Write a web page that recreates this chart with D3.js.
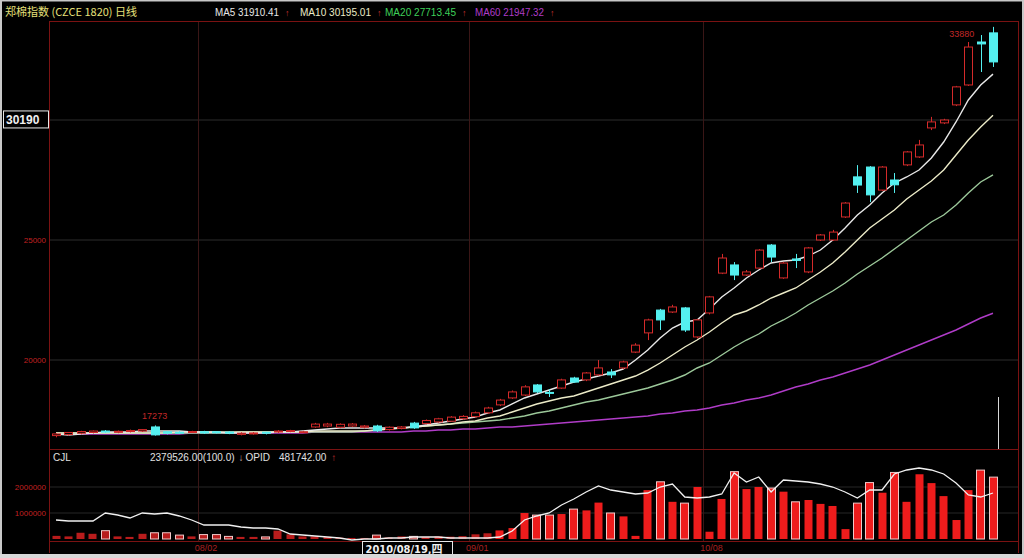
<!DOCTYPE html>
<html><head><meta charset="utf-8">
<script src="https://cdn.jsdelivr.net/npm/d3@7"></script>
<style>body{margin:0;background:#000}svg{display:block}</style>
</head><body><svg id="c" width="1024" height="558"></svg>
<script>
// ---------- DATA ----------
const opens  = [16850,16900,16950,16980,17040,16990,17020,17040,17210,17010,16990,17000,17010,17010,17000,16900,16920,16990,17000,17020,17000,17210,17250,17200,17250,17200,17250,17100,17150,17370,17350,17420,17450,17550,17640,17800,18130,18420,18540,18960,18650,18830,19250,19170,19380,19500,19670,20330,21130,22080,22000,22170,20960,21960,23620,23960,23540,23830,24790,23420,24210,23670,25000,25000,25960,27630,28040,27080,27500,28130,28460,29670,29880,30630,31460,33250,33630];
const highs  = [16950,17000,17050,17060,17080,17060,17100,17120,17273,17020,17040,17050,17050,17030,17040,16990,17000,17010,17080,17090,17050,17380,17380,17360,17370,17290,17300,17230,17250,17420,17520,17590,17660,17700,17850,18050,18380,18730,18950,19000,18780,19220,19300,19500,20000,19620,19970,20700,21720,22130,22300,22210,21710,22670,24420,24080,23750,24620,24830,24080,24420,24710,25250,25420,26580,28120,28080,28080,27790,28710,29170,30130,30050,31420,33250,33540,33880];
const lows   = [16780,16850,16900,16940,16960,16950,16980,17000,16850,16900,16930,16960,16920,16940,16910,16860,16890,16900,16960,16990,16960,17180,17200,17160,17220,17150,17000,17060,17110,17130,17320,17390,17420,17500,17600,17760,18080,18380,18500,18620,18460,18800,19050,19120,19350,19250,19620,20290,20830,21250,21960,21170,20900,21900,23580,23330,23500,23800,24080,23380,23830,23620,24960,24960,25920,26960,26580,27040,26960,28080,28420,29580,29830,30580,31420,32000,32210];
const closes = [16920,16980,17020,17040,17000,17030,17060,17100,16880,16950,16960,17020,16960,16980,16950,16950,16960,16950,17040,17060,17010,17330,17330,17320,17330,17250,17050,17200,17210,17170,17480,17550,17620,17650,17800,18000,18330,18670,18880,18670,18620,19170,19080,19460,19670,19380,19920,20620,21670,21670,22210,21250,21670,22630,24250,23540,23670,24580,24290,24040,24150,24670,25210,25330,26540,27290,26880,28040,27300,28670,28960,29920,30000,31380,33040,33170,32420];
const volumes = [120000,100000,240000,200000,320000,100000,80000,200000,240000,240000,150000,100000,170000,170000,100000,80000,80000,80000,320000,180000,100000,100000,80000,50000,40000,40000,150000,60000,100000,100000,80000,100000,90000,110000,180000,220000,330000,420000,1000000,920000,920000,960000,1150000,1100000,1400000,1000000,870000,120000,1880000,2200000,1430000,1380000,2000000,280000,1540000,2590000,1920000,2000000,1960000,1820000,1430000,1500000,1350000,1270000,380000,1380000,2170000,1780000,2560000,1430000,2490000,2150000,1650000,730000,1880000,2650000,2379526];
const opid = [323270,317400,317400,317400,364360,352620,335010,364360,358490,364360,346750,323270,293920,293920,293920,282180,276310,276310,270440,241090,235220,229350,223480,217610,205870,211740,211740,217610,217610,223480,223480,223480,217610,217610,217610,217610,223480,258700,323270,346750,364360,411320,446540,487630,522850,499370,487630,475890,481760,516980,534590,458280,452410,458280,475890,599160,546330,575680,487630,558070,552200,546330,534590,516980,487630,452410,499370,499370,593290,616770,628510,616770,593290,540460,470020,458280,481742];
const ma5  = [16917,16875,16917,16958,17000,17000,17000,17042,17042,17042,17042,17000,17000,17000,16958,16958,16958,16958,17000,17000,17042,17083,17125,17167,17167,17167,17167,17167,17167,17208,17292,17375,17458,17542,17625,17792,17917,18167,18417,18583,18750,18917,19083,19208,19333,19458,19625,20000,20417,20917,21333,21583,21667,22125,22625,23000,23417,23750,24042,24125,24167,24333,24583,25000,25500,26042,26458,26958,27375,27625,27917,28417,29083,29917,30833,31458,31910.41];
const ma10 = [16958,16958,16958,16958,16958,16958,16958,16958,16958,16958,17000,17000,17000,17000,17000,17000,17000,17000,17000,17000,17000,17042,17042,17042,17042,17042,17083,17125,17167,17208,17250,17292,17333,17417,17458,17583,17667,17833,18000,18167,18292,18417,18500,18667,18833,19000,19167,19333,19583,19875,20208,20542,20833,21167,21542,21875,22042,22292,22583,22792,23000,23333,23667,24042,24500,25000,25500,25875,26250,26708,27083,27458,27917,28542,29167,29708,30195.01];
const ma20 = [16958,16958,16958,16958,16958,16958,16958,16958,16958,16958,16958,16958,16958,16958,16958,17000,17000,17000,17000,17000,17000,17000,17000,17000,17000,17042,17083,17125,17167,17208,17250,17292,17333,17375,17417,17458,17500,17583,17667,17792,17875,18000,18125,18250,18333,18458,18583,18708,18833,19000,19167,19375,19667,19875,20208,20542,20833,21083,21417,21667,21958,22292,22583,22875,23208,23583,23917,24250,24625,25000,25375,25750,26042,26458,26958,27417,27713.45];
const ma60 = [16917,16917,16917,16917,16917,16917,16917,16917,16917,16917,16917,16958,16958,16958,16958,16958,16958,16958,16958,16958,16958,17000,17000,17000,17000,17000,17000,17000,17000,17042,17042,17083,17083,17125,17125,17167,17208,17208,17250,17292,17333,17375,17417,17458,17500,17542,17583,17625,17667,17750,17792,17875,17917,18000,18125,18208,18333,18417,18542,18708,18875,19000,19167,19292,19458,19625,19792,20000,20208,20417,20625,20833,21042,21250,21500,21750,21947.32];
const priceTicks = [20000, 25000];
const volTicks = [1000000, 2000000];
const dateTickIndex = [12, 34, 53];
const dateTickLabels = ["08/02", "09/01", "10/08"];
const cursorIndex = 25;
const cursorLabel = "2010/08/19,四";
const currentPrice = 30190;
const title = "郑棉指数 (CZCE 1820) 日线";
const maNames = ["MA5", "MA10", "MA20", "MA60"];
const maLast = ["31910.41", "30195.01", "27713.45", "21947.32"];
const lowMarkIndex = 8, lowMarkText = "17273";
const highMarkText = "33880";

// ---------- LAYOUT ----------
const svg = d3.select("#c");
const W = 1024, H = 558;
const L = 50, R = 1018;
const mainTop = 21, mainBot = 449, volTop = 449, volBot = 541;
const N = closes.length;
const x = d3.scaleLinear().domain([0, N - 1]).range([56, 993]);
const step = x(1) - x(0);
const y = d3.scaleLinear().domain([20000, 30000]).range([360, 120]);
const yv = d3.scaleLinear().domain([0, 2000000]).range([539, 487]);
const yo = d3.scaleLinear().domain([200000, 700000]).range([541, 541 - 500000 / 5870]);

svg.append("rect").attr("width", W).attr("height", H).attr("fill", "#000");

const font = "'Liberation Sans', Arial, sans-serif";
const red = "#d42a2a", cyan = "#54f0f0", frame = "#7a1212";

// grid lines
const g = svg.append("g");
[30000, 25000, 20000].forEach(v => g.append("line").attr("x1", L).attr("x2", R).attr("y1", y(v)).attr("y2", y(v)).attr("stroke", "#2c2c2c").attr("stroke-width", 1));
volTicks.forEach(v => g.append("line").attr("x1", L).attr("x2", R).attr("y1", yv(v)).attr("y2", yv(v)).attr("stroke", "#262626").attr("stroke-width", 1));
dateTickIndex.forEach(i => {
  const gx = Math.round(x(i) - step / 2) + 0.5;
  g.append("line").attr("x1", gx).attr("x2", gx).attr("y1", mainTop).attr("y2", volBot).attr("stroke", "#3a1616").attr("stroke-width", 1);
});

// frame lines
svg.append("line").attr("x1", L - 1).attr("x2", R).attr("y1", mainTop + 0.5).attr("y2", mainTop + 0.5).attr("stroke", frame);
svg.append("line").attr("x1", L - 1).attr("x2", R).attr("y1", volTop + 0.5).attr("y2", volTop + 0.5).attr("stroke", frame);
svg.append("line").attr("x1", L - 1).attr("x2", R).attr("y1", volBot + 0.5).attr("y2", volBot + 0.5).attr("stroke", frame);
svg.append("line").attr("x1", L - 0.5).attr("x2", L - 0.5).attr("y1", mainTop).attr("y2", 553).attr("stroke", frame);
svg.append("line").attr("x1", R + 0.5).attr("x2", R + 0.5).attr("y1", mainTop).attr("y2", 553).attr("stroke", frame);

// header
svg.append("text").attr("x", 5).attr("y", 16).attr("font-family", "'Noto Sans CJK SC', sans-serif").attr("font-size", 11).attr("fill", "#e6e07a").text(title);
const maColors = ["#e8e8e8", "#ecebc8", "#3fd05a", "#b03cc8"];
const maX = [215, 300, 385, 475];
const maW = [64, 71, 71, 69];
maNames.forEach((n, k) => {
  svg.append("text").attr("x", maX[k]).attr("y", 16).attr("font-family", font).attr("font-size", 10.5)
    .attr("textLength", maW[k]).attr("lengthAdjust", "spacingAndGlyphs").attr("fill", maColors[k]).text(n + " " + maLast[k]);
  svg.append("text").attr("x", maX[k] + maW[k] + 6).attr("y", 16).attr("font-family", font).attr("font-size", 9).attr("fill", "#c03030").text("↑");
});

// y-axis labels
priceTicks.forEach(v => svg.append("text").attr("x", 46).attr("y", y(v) + 3).attr("text-anchor", "end").attr("font-family", font).attr("font-size", 8).attr("fill", "#c02020").text(v));
svg.append("rect").attr("x", 3.5).attr("y", y(currentPrice) + 4.5 - 9).attr("width", 45).attr("height", 17).attr("fill", "#000").attr("stroke", "#e8e8e8").attr("stroke-width", 1);
svg.append("text").attr("x", 6).attr("y", y(currentPrice) + 9).attr("font-family", font).attr("font-size", 12).attr("font-weight", "bold").attr("fill", "#f0f0f0").text(currentPrice);

// volume labels
volTicks.forEach(v => svg.append("text").attr("x", 46).attr("y", yv(v) + 3).attr("text-anchor", "end").attr("font-family", font).attr("font-size", 8).attr("fill", "#c02020").text(v));
svg.append("text").attr("x", 53).attr("y", 461).attr("font-family", font).attr("font-size", 10).attr("fill", "#e0e0e0").text("CJL");
const cj = svg.append("text").attr("x", 150).attr("y", 461).attr("font-family", font).attr("font-size", 10).attr("fill", "#e0e0e0");
cj.append("tspan").text(volumes[N - 1].toFixed(2) + "(100.0)");
cj.append("tspan").attr("dx", 4).attr("fill", "#c0a0a0").text("↓");
cj.append("tspan").attr("dx", 2).text("OPID");
cj.append("tspan").attr("dx", 9).text(opid[N - 1].toFixed(2));
cj.append("tspan").attr("dx", 5).attr("fill", "#c03030").text("↑");

// volume bars
const bw = 9;
svg.append("g").selectAll("rect").data(volumes).join("rect")
  .attr("x", (d, i) => Math.round(x(i) - bw / 2) + 0.5)
  .attr("y", d => yv(d))
  .attr("width", bw - 1)
  .attr("height", d => yv(0) - yv(d))
  .attr("fill", (d, i) => i < 36 ? "#b81c1c" : "#ee1c1c")
  .attr("stroke", (d, i) => closes[i] < opens[i] ? "#f0c8c8" : "none")
  .attr("stroke-width", 1);

// OPID line
svg.append("path").datum(opid)
  .attr("d", d3.line().x((d, i) => x(i)).y(d => yo(d)))
  .attr("fill", "none").attr("stroke", "#f0f0f0").attr("stroke-width", 1.3);

// MA lines
[ma60, ma20, ma10, ma5].forEach((arr, k) => {
  const col = [maColors[3], "#9cc89a", maColors[1], maColors[0]][k];
  svg.append("path").datum(arr)
    .attr("d", d3.line().x((d, i) => x(i)).y(d => y(d)))
    .attr("fill", "none").attr("stroke", col).attr("stroke-width", 1.4);
});

// candles
const cw = 9;
const cg = svg.append("g");
d3.range(N).forEach(i => {
  const up = closes[i] >= opens[i];
  const col = up ? red : cyan;
  const cx = Math.round(x(i)) + 0.5;
  const top = y(Math.max(opens[i], closes[i])), bot = y(Math.min(opens[i], closes[i]));
  cg.append("line").attr("x1", cx).attr("x2", cx).attr("y1", y(highs[i])).attr("y2", top).attr("stroke", col);
  cg.append("line").attr("x1", cx).attr("x2", cx).attr("y1", bot).attr("y2", y(lows[i])).attr("stroke", col);
  cg.append("rect").attr("x", cx - (cw - 1) / 2).attr("y", top).attr("width", cw - 1).attr("height", Math.max(1, bot - top))
    .attr("fill", up ? "#000" : cyan).attr("stroke", col).attr("stroke-width", 1);
});

// high / low marks
svg.append("text").attr("x", x(lowMarkIndex)).attr("y", y(highs[lowMarkIndex]) - 6).attr("text-anchor", "middle").attr("font-family", font).attr("font-size", 9).attr("fill", "#c02828").text(lowMarkText);
svg.append("text").attr("x", x(N - 3) + 6).attr("y", y(d3.max(highs)) + 10).attr("text-anchor", "end").attr("font-family", font).attr("font-size", 9).attr("fill", "#c02828").text(highMarkText);

// cursor marker on right
svg.append("line").attr("x1", 998.5).attr("x2", 998.5).attr("y1", 397).attr("y2", 449).attr("stroke", "#d8d8d8");

// date labels
dateTickIndex.forEach((i, k) => {
  svg.append("text").attr("x", x(i) - step / 2 - 3).attr("y", 551).attr("font-family", font).attr("font-size", 9).attr("fill", "#a82020").text(dateTickLabels[k]);
});
const cx0 = Math.round(x(cursorIndex)) - 1.5;
svg.append("rect").attr("x", cx0).attr("y", 541.5).attr("width", 90).attr("height", 14).attr("fill", "#000").attr("stroke", "#e8e8e8");
svg.append("text").attr("x", cx0 + 3).attr("y", 553).attr("font-family", "'DejaVu Sans Condensed', 'Noto Sans CJK SC', sans-serif").attr("font-size", 11).attr("font-weight", "bold").attr("fill", "#f0f0f0").text(cursorLabel);

// outer border
svg.append("rect").attr("x", 1).attr("y", 0.5).attr("width", W - 2).attr("height", H - 1.5).attr("fill", "none").attr("stroke", "#c8c8c8").attr("stroke-width", 2);
svg.append("rect").attr("x", 0).attr("y", 554).attr("width", W).attr("height", 4).attr("fill", "#d8d8d8");
</script></body></html>
